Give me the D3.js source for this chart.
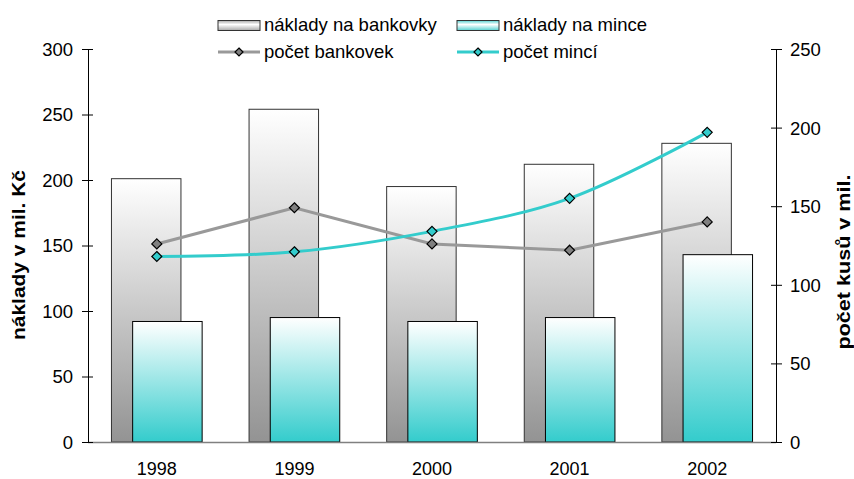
<!DOCTYPE html>
<html>
<head>
<meta charset="utf-8">
<script src="https://cdnjs.cloudflare.com/ajax/libs/d3/7.8.5/d3.min.js"></script>
<style>
	body { margin: 0; background: #fff; }
	svg text { font-family: "Liberation Sans", Arial, sans-serif; fill: #000; }
</style>
</head>
<body>
<svg id="chart" width="854" height="479"></svg>
<script>
// data
var years = ["1998", "1999", "2000", "2001", "2002"];
var costNotes = [201, 254, 195, 212, 228];
var costCoins = [92, 95, 92, 95, 143];
var countNotes = [126, 149, 126, 122, 140];
var countCoins = [118, 121, 134, 155, 197];
var leftTicks = [0, 50, 100, 150, 200, 250, 300];
var rightTicks = [0, 50, 100, 150, 200, 250];

var svg = d3.select("#chart");
var plotL = 88, plotR = 776, plotT = 49, plotB = 442;

var x = d3.scaleBand().domain(years).range([plotL, plotR]);
var yL = d3.scaleLinear().domain([0, 300]).range([plotB, plotT]);
var yR = d3.scaleLinear().domain([0, 250]).range([plotB, plotT]);

// gradients
var defs = svg.append("defs");
function grad(id, c0, c1) {
	var g = defs.append("linearGradient").attr("id", id)
		.attr("x1", 0).attr("y1", 0).attr("x2", 0).attr("y2", 1);
	g.append("stop").attr("offset", "0%").attr("stop-color", c0);
	g.append("stop").attr("offset", "100%").attr("stop-color", c1);
}
grad("gNotes", "#ffffff", "#939393");
grad("gCoins", "#ffffff", "#33cccc");
// legend swatches: banded
function grad2(id, c0, c1) {
	var g = defs.append("linearGradient").attr("id", id)
		.attr("x1", 0).attr("y1", 0).attr("x2", 0).attr("y2", 1);
	g.append("stop").attr("offset", "0%").attr("stop-color", c1);
	g.append("stop").attr("offset", "40%").attr("stop-color", c0);
	g.append("stop").attr("offset", "100%").attr("stop-color", c1);
}
grad2("lNotes", "#ffffff", "#a8a8a8");
grad2("lCoins", "#ffffff", "#55d0d0");

var bw = x.bandwidth();
var barW = bw * 0.505;
var shift = bw * 0.077;

// banknote bars
svg.append("g").selectAll("rect")
	.data(costNotes)
	.enter().append("rect")
	.attr("x", function(d, i) { return x(years[i]) + bw / 2 - shift - barW / 2; })
	.attr("y", function(d) { return yL(d); })
	.attr("width", barW)
	.attr("height", function(d) { return plotB - yL(d); })
	.style("fill", "url(#gNotes)")
	.style("stroke", "#333")
	.style("stroke-width", 1);

// coin bars
svg.append("g").selectAll("rect")
	.data(costCoins)
	.enter().append("rect")
	.attr("x", function(d, i) { return x(years[i]) + bw / 2 + shift - barW / 2; })
	.attr("y", function(d) { return yL(d); })
	.attr("width", barW)
	.attr("height", function(d) { return plotB - yL(d); })
	.style("fill", "url(#gCoins)")
	.style("stroke", "#000")
	.style("stroke-width", 1);

// x axis line
svg.append("line")
	.attr("x1", plotL).attr("x2", plotR).attr("y1", plotB + 0.5).attr("y2", plotB + 0.5)
	.style("stroke", "#808080").style("stroke-width", 1.5);

// lines
function cx(d, i) { return x(years[i]) + bw / 2; }
var lineNotes = d3.line().x(cx).y(function(d) { return yR(d); });
var lineCoins = d3.line().x(cx).y(function(d) { return yR(d); }).curve(d3.curveCatmullRom.alpha(0.5));

svg.append("path").attr("d", lineNotes(countNotes))
	.style("fill", "none").style("stroke", "#999999").style("stroke-width", 3);
svg.append("path").attr("d", lineCoins(countCoins))
	.style("fill", "none").style("stroke", "#33cccc").style("stroke-width", 3);

function markers(data, fill) {
	svg.append("g").selectAll("path")
		.data(data)
		.enter().append("path")
		.attr("d", "M0,-5L5,0L0,5L-5,0Z")
		.attr("transform", function(d, i) { return "translate(" + cx(d, i) + "," + yR(d) + ")"; })
		.style("fill", fill).style("stroke", "#000").style("stroke-width", 1.2);
}
markers(countNotes, "#808080");
markers(countCoins, "#33cccc");

// left axis
var axL = svg.append("g").attr("transform", "translate(" + plotL + ",0)")
	.call(d3.axisLeft(yL).tickValues(leftTicks).tickSize(6).tickPadding(9));
axL.selectAll(".tick line").attr("x2", 5).attr("x1", -6);
axL.select(".domain").attr("d", "M0.5," + plotT + "V" + plotB);
axL.selectAll("text").style("font-size", "18.5px").attr("dy", "0.35em");

// right axis
var axR = svg.append("g").attr("transform", "translate(" + plotR + ",0)")
	.call(d3.axisRight(yR).tickValues(rightTicks).tickSize(6).tickPadding(8));
axR.selectAll(".tick line").attr("x1", -5).attr("x2", 6);
axR.select(".domain").attr("d", "M0.5," + plotT + "V" + plotB);
axR.selectAll("text").style("font-size", "18.5px").attr("dy", "0.35em");

// category labels
svg.append("g").selectAll("text")
	.data(years)
	.enter().append("text")
	.attr("x", function(d) { return x(d) + bw / 2; })
	.attr("y", 475)
	.attr("text-anchor", "middle")
	.style("font-size", "18px")
	.text(function(d) { return d; });

// axis titles
svg.append("text")
	.attr("transform", "translate(25,255) rotate(-90)")
	.attr("text-anchor", "middle")
	.attr("textLength", 170).attr("lengthAdjust", "spacingAndGlyphs")
	.style("font-size", "19px").style("font-weight", "bold")
	.text("náklady v mil. Kč");
svg.append("text")
	.attr("transform", "translate(850,262) rotate(-90)")
	.attr("text-anchor", "middle")
	.attr("textLength", 175).attr("lengthAdjust", "spacingAndGlyphs")
	.style("font-size", "19px").style("font-weight", "bold")
	.text("počet kusů v mil.");

// legend
var legend = [
	{ label: "náklady na bankovky", type: "bar", fill: "url(#lNotes)", x: 218, y: 25 },
	{ label: "náklady na mince", type: "bar", fill: "url(#lCoins)", x: 457, y: 25 },
	{ label: "počet bankovek", type: "line", stroke: "#999999", mfill: "#808080", x: 218, y: 52 },
	{ label: "počet mincí", type: "line", stroke: "#33cccc", mfill: "#33cccc", x: 457, y: 52 }
];
var lg = svg.append("g").selectAll("g").data(legend).enter().append("g")
	.attr("transform", function(d) { return "translate(" + d.x + "," + d.y + ")"; });
lg.filter(function(d) { return d.type == "bar"; }).append("rect")
	.attr("x", 0).attr("y", -4.5).attr("width", 42).attr("height", 10)
	.style("fill", function(d) { return d.fill; })
	.style("stroke", "#333").style("stroke-width", 1);
var ll = lg.filter(function(d) { return d.type == "line"; });
ll.append("line").attr("x1", 0).attr("x2", 42).attr("y1", 0).attr("y2", 0)
	.style("stroke", function(d) { return d.stroke; }).style("stroke-width", 3);
ll.append("path").attr("d", "M21,-4L25,0L21,4L17,0Z")
	.style("fill", function(d) { return d.mfill; }).style("stroke", "#000").style("stroke-width", 1.2);
lg.append("text").attr("x", 46).attr("y", 0).attr("dy", "0.35em")
	.style("font-size", "18.5px")
	.text(function(d) { return d.label; });
</script>
</body>
</html>
